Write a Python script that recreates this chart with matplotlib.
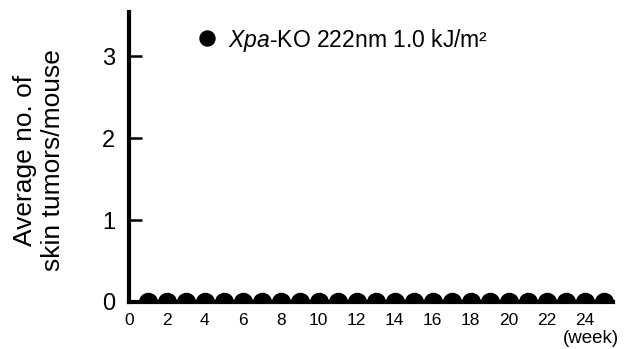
import numpy as np
import matplotlib
matplotlib.use("Agg")
import matplotlib.pyplot as plt

plt.rcParams['font.family'] = ['Liberation Sans', 'DejaVu Sans']
plt.rcParams['mathtext.fontset'] = 'custom'
plt.rcParams['mathtext.rm'] = 'Liberation Sans'
plt.rcParams['mathtext.it'] = 'Liberation Sans:italic'

# data
weeks = list(range(1, 26))
tumors = [0] * 25
xticks = list(range(0, 25, 2))
yticks = [0, 1, 2, 3]
series_label = r'$\mathit{Xpa}$-KO 222nm 1.0 kJ/m²'

fig = plt.figure(figsize=(6.24, 3.49), dpi=100)
ax = fig.add_axes([129 / 624, 47 / 349, 484 / 624, 290 / 349])

# markers sit on the x axis, lower half hidden by the axes clip
ax.plot(weeks, tumors, 'o', color='black', markersize=13,
        clip_on=True, zorder=1, label=series_label)

ax.set_xlim(0, 25.5)
ax.set_ylim(0, 3.54)
ax.set_xticks(xticks)
ax.set_yticks(yticks)
ax.tick_params(axis='x', length=0, labelsize=12.5, pad=8)
ax.tick_params(axis='y', direction='in', length=9, width=1.8, labelsize=17, pad=10)

for s in ['top', 'right']:
    ax.spines[s].set_visible(False)
for s in ['left', 'bottom']:
    ax.spines[s].set_linewidth(3)
    ax.spines[s].set_zorder(3)

fig.text(39 / 624, 1 - 160 / 349, 'Average no. of\nskin tumors/mouse',
         rotation=90, ha='center', va='center', multialignment='center',
         fontsize=19, linespacing=1.2)
ax.text(1.012, -0.095, '(week)', transform=ax.transAxes, ha='right', va='top',
        fontsize=13.5)

ax.legend(loc='center left', bbox_to_anchor=(196 / 624, 1 - 40 / 349),
          bbox_transform=fig.transFigure, frameon=False, fontsize=16.5,
          handlelength=1.0, handletextpad=0.39, borderpad=0, borderaxespad=0,
          markerscale=0.83, numpoints=1)

plt.savefig('out.png', dpi=100)
